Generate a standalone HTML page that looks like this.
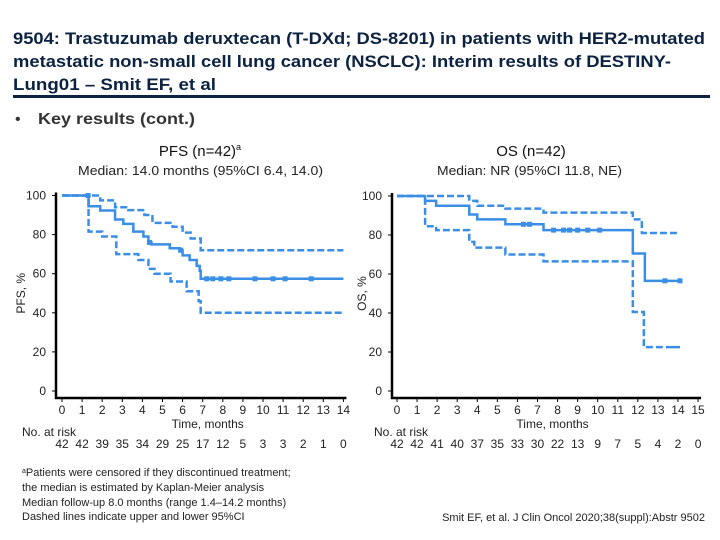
<!DOCTYPE html>
<html><head><meta charset="utf-8"><style>
body{margin:0;background:#fff;}
svg{display:block;font-family:"Liberation Sans",sans-serif;}
</style></head><body>
<svg id="c" width="720" height="540" viewBox="0 0 720 540">
<g fill="#0b2240" font-weight="bold" font-size="17">
<text x="13" y="44" textLength="692" lengthAdjust="spacingAndGlyphs">9504: Trastuzumab deruxtecan (T-DXd; DS-8201) in patients with HER2-mutated</text>
<text x="13" y="67" textLength="658" lengthAdjust="spacingAndGlyphs">metastatic non-small cell lung cancer (NSCLC): Interim results of DESTINY-</text>
<text x="13" y="90" textLength="203" lengthAdjust="spacingAndGlyphs">Lung01 – Smit EF, et al</text>
</g>
<rect x="13" y="95" width="697" height="3" fill="#0b2240"/>
<text x="15" y="124" font-size="16" fill="#333">•</text>
<text x="38" y="124" font-size="16" font-weight="bold" fill="#333" textLength="157" lengthAdjust="spacingAndGlyphs">Key results (cont.)</text>
<text x="200" y="156" font-size="15" text-anchor="middle" fill="#111">PFS (n=42)<tspan font-size="9" dy="-6">a</tspan></text>
<text x="78" y="175" font-size="13" textLength="245" lengthAdjust="spacingAndGlyphs" fill="#222">Median: 14.0 months (95%CI 6.4, 14.0)</text>
<text x="531" y="156" font-size="15" text-anchor="middle" fill="#111">OS (n=42)</text>
<text x="437" y="175" font-size="13" textLength="185" lengthAdjust="spacingAndGlyphs" fill="#222">Median: NR (95%CI 11.8, NE)</text>
<g id="pfs"></g><g id="os"></g>
<g font-size="11" fill="#222">
<text x="22" y="476"><tspan font-size="7" dy="-3">a</tspan><tspan dy="3">Patients were censored if they discontinued treatment;</tspan></text>
<text x="22" y="491">the median is estimated by Kaplan-Meier analysis</text>
<text x="22" y="506">Median follow-up 8.0 months (range 1.4–14.2 months)</text>
<text x="22" y="520">Dashed lines indicate upper and lower 95%CI</text>
</g>
<text x="705" y="521" font-size="11" text-anchor="end" fill="#222">Smit EF, et al. J Clin Oncol 2020;38(suppl):Abstr 9502</text>
</svg>
<script>
// PFS data: [time, %]
const pfsEst=[[0,100],[1.32,94.5],[1.9,92.3],[2.64,87.7],[3.05,85.5],[3.55,81.5],[4.05,79],[4.3,76],[4.45,75],[5.36,73],[5.86,72],[6.0,69.4],[6.35,67],[6.7,64],[6.85,61.5],[6.9,57.4]];
const pfsUpper=[[0,100],[1.9,97.5],[2.64,94],[3.3,92.5],[4.1,90],[4.5,86],[5.5,84],[6.0,81],[6.4,78],[6.9,72]];
const pfsLower=[[0,100],[1.32,81.5],[2.0,79],[2.7,70],[3.8,67],[4.3,62.5],[4.6,60],[5.4,56],[6.2,51],[6.8,46],[6.9,40]];
const pfsEnd=14;
const pfsCensor=[1.3,4.35,5.9,7.2,7.5,7.9,8.3,9.6,10.5,11.1,12.4];
const pfsRisk=[42,42,39,35,34,29,25,17,12,5,3,3,2,1,0];
// OS data
const osEst=[[0,100],[1.4,97.5],[1.95,95],[3.6,90.5],[4.0,88],[5.4,85.5],[7.3,82.5],[11.75,70.5],[12.35,56.5]];
const osUpper=[[0,100],[3.6,97.5],[4.0,95],[5.4,93.5],[7.3,91.5],[11.75,88],[12.2,81]];
const osLower=[[0,100],[1.4,84.5],[1.95,82.5],[3.6,76.5],[3.85,73.5],[5.4,70],[7.3,66.5],[11.75,40.5],[12.3,22.5]];
const osEnd=14.1;
const osCensor=[6.3,6.6,7.8,8.3,8.6,9.0,9.5,10.1,13.35,14.1];
const osRisk=[42,42,41,40,37,35,33,30,22,13,9,7,5,4,2,0];
const yTicks=[0,20,40,60,80,100];
const NS='http://www.w3.org/2000/svg';
const BLUE='#3a8ee6';
function mk(p,t,a){const e=document.createElementNS(NS,t);for(const k in a)e.setAttribute(k,a[k]);p.appendChild(e);return e;}
function chart(g,cfg){
  const X=t=>cfg.x0+t*cfg.xs, Y=v=>cfg.y0-v*cfg.ys;
  const step=(pts,end)=>{let d='M'+X(pts[0][0])+' '+Y(pts[0][1]);
    for(let i=1;i<pts.length;i++){d+=' H'+X(pts[i][0])+' V'+Y(pts[i][1]);}
    return d+' H'+X(end);};
  const ax=mk(g,'path',{d:`M${cfg.ax} ${Y(100)-3} V398 H${X(cfg.xmax)+3}`,stroke:'#000','stroke-width':2.5,fill:'none'});
  
  yTicks.forEach(v=>{
    const t=mk(g,'text',{x:cfg.ax-10,y:Y(v)+4,'font-size':12,'text-anchor':'end',fill:'#222'});t.textContent=v;
    
    mk(g,'line',{x1:cfg.ax-4,x2:cfg.ax,y1:Y(v),y2:Y(v),stroke:'#000'});
  });
  for(let i=0;i<=cfg.xmax;i++){
    mk(g,'line',{x1:X(i),x2:X(i),y1:398,y2:402,stroke:'#000'});
    const t=mk(g,'text',{x:X(i),y:414,'font-size':12,'text-anchor':'middle',fill:'#222'});t.textContent=i;
    
    const r=mk(g,'text',{x:X(i),y:448,'font-size':12,'text-anchor':'middle',fill:'#222'});r.textContent=cfg.risk[i];
    
  }
  const xt=mk(g,'text',{x:X(cfg.xmax/2)+5,y:428,'font-size':12,'text-anchor':'middle',fill:'#222'});xt.textContent='Time, months';
  
  const nr=mk(g,'text',{x:cfg.nrx,y:436,'font-size':12,fill:'#222'});nr.textContent='No. at risk';
  
  const yt=mk(g,'text',{x:cfg.ytx,y:Y(50),'font-size':12,'text-anchor':'middle',fill:'#222',transform:`rotate(-90 ${cfg.ytx} ${Y(50)})`});yt.textContent=cfg.ylab;
  
  const u=mk(g,'path',{d:step(cfg.up,cfg.end),stroke:BLUE,'stroke-width':2.5,fill:'none','stroke-dasharray':'7 3'});
  
  const l=mk(g,'path',{d:step(cfg.lo,cfg.end),stroke:BLUE,'stroke-width':2.5,fill:'none','stroke-dasharray':cfg.loDash});
  
  const e=mk(g,'path',{d:step(cfg.est,cfg.end),stroke:BLUE,'stroke-width':2.5,fill:'none'});
  
  cfg.cens.forEach(t=>{let v=cfg.est[0][1];cfg.est.forEach(p=>{if(p[0]<=t)v=p[1];});
    const c=mk(g,'rect',{x:X(t)-2.5,y:Y(v)-2.5,width:5,height:5,fill:BLUE});
    });
}
chart(document.getElementById('pfs'),{name:'pfs',x0:62,xs:20.1,y0:391,ys:1.955,ax:56,xmax:14,end:pfsEnd,est:pfsEst,up:pfsUpper,lo:pfsLower,cens:pfsCensor,risk:pfsRisk,ylab:'PFS, %',ytx:25,nrx:22,loDash:'7 3'});
chart(document.getElementById('os'),{name:'os',x0:397,xs:20.07,y0:391,ys:1.95,ax:392,xmax:15,end:osEnd,est:osEst,up:osUpper,lo:osLower,cens:osCensor,risk:osRisk,ylab:'OS, %',ytx:366,nrx:374,loDash:'7 3 7 3 7 3 7 3 7 3 7 3 7 3 7 3 7 3 7 3 7 3 7 3 7 3 7 3 7 3 7 3 7 3 7 3 7 3 7 3 7 3 7 3 7 3 7 3 7 3 7 3 7 3 7 3 7 3 7 3 7 3 7 3 7 3 7 3 7 3 7 3 7 3 7 3 7 3 7 3 7 3 7 3 95 3 7 3 7 3 7 3 7 3 7 3 7 3 7 3 7 3 7 3 7 3 7 3 7 3 7 3 7 3 7 3'});
</script>
</body></html>
